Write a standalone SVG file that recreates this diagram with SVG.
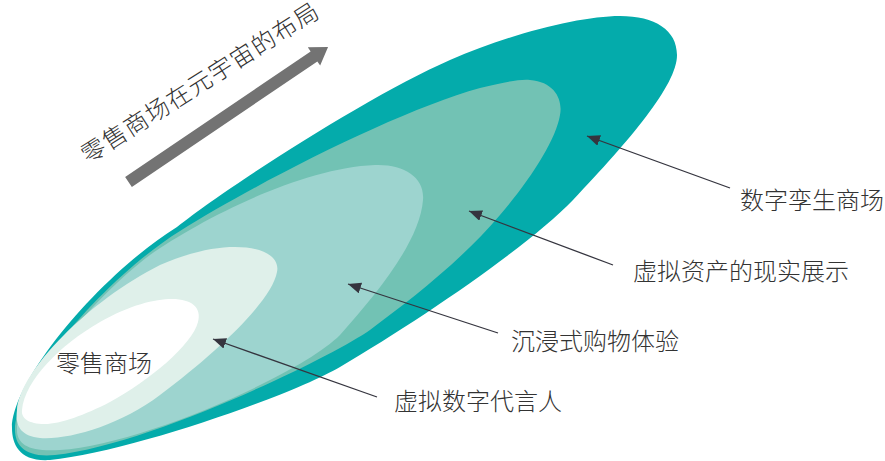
<svg xmlns="http://www.w3.org/2000/svg" width="885" height="461" viewBox="0 0 885 461">
  <style>
    .lbl { font-family: "Noto Sans CJK SC", "Noto Sans", sans-serif; font-size: 24px; font-weight: 300; fill: #333333; }
    .conn { stroke: #35353f; stroke-width: 1.3; fill: none; marker-end: url(#ah); }
  </style>
  <defs>
    <marker id="ah" markerUnits="userSpaceOnUse" markerWidth="14" markerHeight="12" refX="13" refY="5.5" orient="auto">
      <path d="M0,0 L13,5.5 L0,11 Z" fill="#35353f"/>
    </marker>
  </defs>
  <rect width="885" height="461" fill="#ffffff"/>

  <g id="layer-digital-twin">
    <path fill="#04abab" d="M12,428 C12,380 100,275 177,227 C230,185 370,95 450,60 C510,34 580,16 620,16 C655,16 677,30 677,55 C677,85 630,140 573,200 C530,245 420,320 340,367 C290,396 130,452 50,460 C20,462 12,445 12,428 Z"/>
  </g>
  <g id="layer-virtual-assets">
    <path fill="#72c2b4" d="M15,430 C15,384 103,279 180,231 C260,181 400,110 480,88 C505,82 520,79 530,80 C555,82 563,100 560,115 C556,140 530,180 500,215 C460,262 410,300 370,330 C330,358 150,445 55,455 C25,458 15,445 15,430 Z"/>
  </g>
  <g id="layer-immersive">
    <path fill="#9dd4cf" d="M17,430 C17,390 90,300 150,255 C200,220 300,168 375,165 C405,164 425,178 423,200 C420,240 380,290 340,335 C300,375 140,445 60,450 C30,452 17,445 17,430 Z"/>
  </g>
  <g id="layer-avatar">
    <path fill="#dff0ea" d="M17,410 C20,370 90,300 160,265 C190,252 215,247 235,247 C265,247 280,258 277,272 C272,300 220,350 160,395 C120,425 70,440 40,438 C20,436 15,425 17,410 Z"/>
  </g>
  <g id="layer-retail">
    <path fill="#ffffff" d="M22,410 C25,380 60,345 100,322 C130,305 155,299 172,299 C192,299 202,308 198,322 C192,345 150,380 110,402 C85,415 60,424 45,424 C28,424 21,418 22,410 Z"/>
    <text class="lbl" x="56" y="372">零售商场</text>
  </g>

  <g id="trend-arrow">
    <polygon fill="#737373" transform="translate(128.5,182) rotate(-34.1)" points="0,-6 224,-6 224,-11 241,0 224,11 224,6 0,6"/>
    <text class="lbl" transform="translate(89,166) rotate(-32.5)" x="0" y="-2" font-size="25" letter-spacing="1.2">零售商场在元宇宙的布局</text>
  </g>

  <g id="label-digital-twin">
    <text class="lbl" x="740" y="209">数字孪生商场</text>
  </g>
  <g id="label-virtual-assets">
    <text class="lbl" x="633" y="280">虚拟资产的现实展示</text>
  </g>
  <g id="label-immersive">
    <text class="lbl" x="511" y="350">沉浸式购物体验</text>
  </g>
  <g id="label-avatar">
    <text class="lbl" x="394" y="410">虚拟数字代言人</text>
  </g>

  <g id="connectors">
    <line class="conn" x1="730" y1="188" x2="587" y2="136"/>
    <line class="conn" x1="613" y1="265" x2="469" y2="211"/>
    <line class="conn" x1="498" y1="333" x2="348" y2="284"/>
    <line class="conn" x1="377" y1="397" x2="213" y2="339"/>
  </g>
</svg>
